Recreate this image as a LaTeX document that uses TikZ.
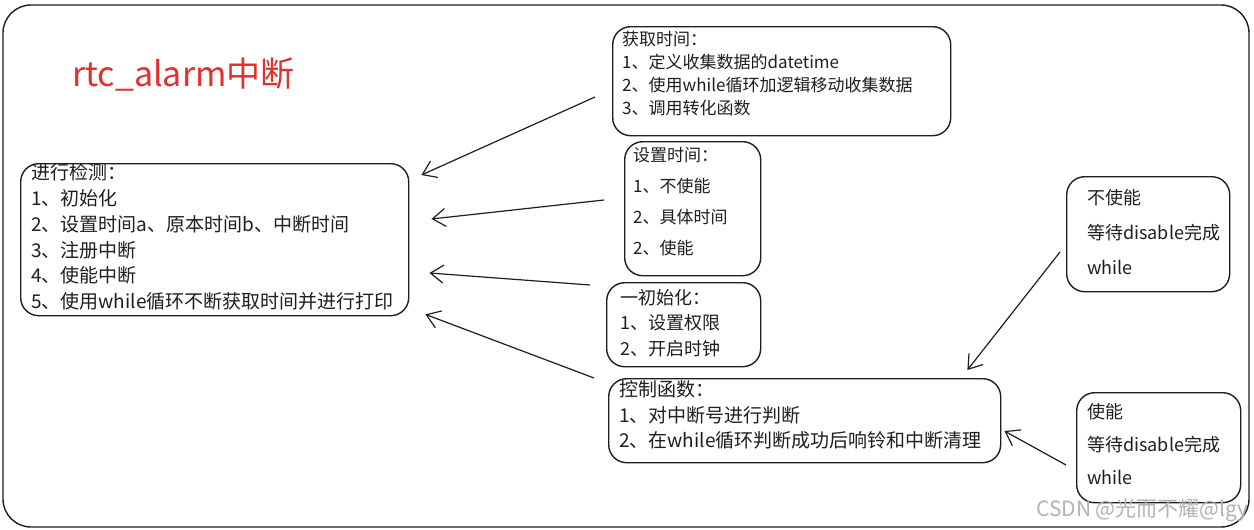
\documentclass[tikz,border=0pt]{standalone}
\usepackage{fontspec}
\setmainfont{Noto Sans CJK SC}
\usetikzlibrary{arrows.meta,calc}
\definecolor{ink}{HTML}{1E1E1E}
\definecolor{exred}{HTML}{E03131}
\tikzset{
  box/.style={draw=ink, line width=1.4pt, rounded corners=18pt, anchor=north west, inner sep=0pt},
  txt/.style={anchor=north west, align=left, inner sep=0pt, text=ink},
  arr/.style={draw=ink, line width=1.2pt, -{Straight Barb[length=13pt,width=18pt,line width=1.2pt]}},
}
\begin{document}
\begin{tikzpicture}[x=1pt,y=-1pt]
\useasboundingbox (0,0) rectangle (1254,530);
\fill[white] (0,0) rectangle (1254,530);
% outer frame
\draw[ink, line width=1.4pt, rounded corners=28pt] (3,5) rectangle (1249,527);
% title
\node[anchor=west, inner sep=0pt, text=exred, font=\fontsize{34}{40}\selectfont] (title) at (72,75) {rtc\_alarm中断};
% boxes
\node[box, minimum width=388pt, minimum height=152pt] (chk) at (20,163) {};
\node[txt, font=\fontsize{19}{25.8}\selectfont] (chkt) at (31,163.5) {进行检测：\\1、初始化\\2、设置时间a、原本时间b、中断时间\\3、注册中断\\4、使能中断\\5、使用while循环不断获取时间并进行打印};

\node[box, minimum width=338pt, minimum height=109pt] (get) at (612,26) {};
\node[txt, font=\fontsize{17}{23}\selectfont] (gett) at (622,31.5) {获取时间：\\1、定义收集数据的datetime\\2、使用while循环加逻辑移动收集数据\\3、调用转化函数};

\node[box, minimum width=136pt, minimum height=134pt] (set) at (624,141) {};
\node[txt, font=\fontsize{17}{31}\selectfont] (sett) at (633,147.5) {设置时间：\\1、不使能\\2、具体时间\\2、使能};

\node[box, minimum width=154pt, minimum height=84pt] (init) at (606,282) {};
\node[txt, font=\fontsize{18}{25.5}\selectfont] (initt) at (620,289) {一初始化：\\1、设置权限\\2、开启时钟};

\node[box, minimum width=392pt, minimum height=84pt] (ctrl) at (608,378) {};
\node[txt, font=\fontsize{19}{25.5}\selectfont] (ctrlt) at (619,380.5) {控制函数：\\1、对中断号进行判断\\2、在while循环判断成功后响铃和中断清理};

\node[box, minimum width=163pt, minimum height=115pt] (dis) at (1066,176) {};
\node[txt, font=\fontsize{18}{35}\selectfont] (dist) at (1087,189) {不使能\\等待disable完成\\while};

\node[box, minimum width=164pt, minimum height=110pt] (en) at (1076,392) {};
\node[txt, font=\fontsize{18}{33}\selectfont] (ent) at (1087,403) {使能\\等待disable完成\\while};

% connectors
\draw[arr] ($(get.north west)+(-17,71)$) -- ($(chk.north east)+(12,12)$);
\draw[arr] ($(set.north west)+(-20,59)$) -- ($(chk.north east)+(22,56)$);
\draw[arr] ($(init.north west)+(-16,3)$) -- ($(chk.north east)+(20,110)$);
\draw[arr] ($(ctrl.north west)+(-14,0)$) -- ($(chk.south east)+(16,-2)$);
\draw[arr] ($(dis.north west)+(-6,76)$) -- ($(ctrl.north east)+(-34,-8)$);
\draw[arr] ($(en.north west)+(-10,73)$) -- ($(ctrl.north east)+(3,53)$);

% watermark
\node[anchor=east, inner sep=0pt, text=black!30, font=\fontsize{21}{24}\selectfont] (wm) at (1249,510) {CSDN @光而不耀@lgy};
\end{tikzpicture}
\end{document}
